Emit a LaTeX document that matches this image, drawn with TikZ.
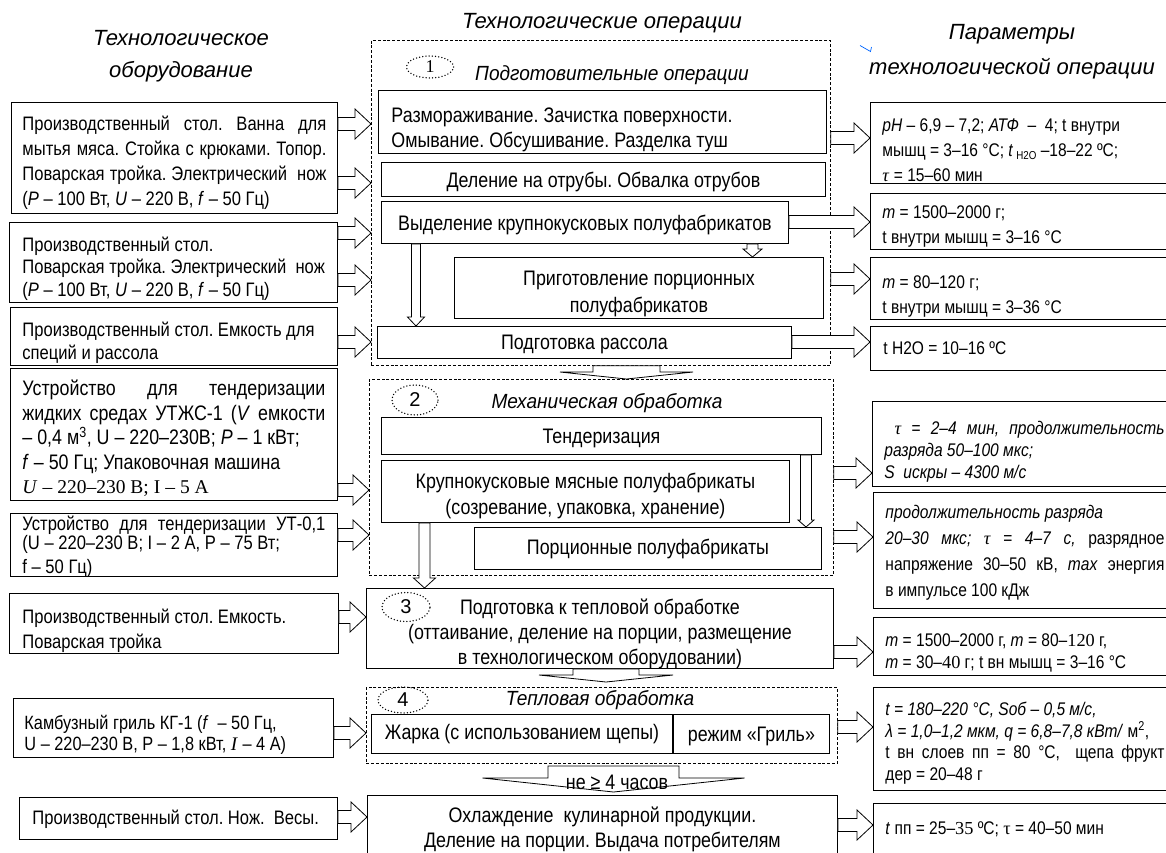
\documentclass[tikz,border=0pt]{standalone}
\usepackage{fontspec}
\setmainfont{Liberation Sans}
\newfontfamily\nar[FakeStretch=0.85]{Liberation Sans}
\newfontfamily\semi[FakeStretch=0.93]{Liberation Sans}
\newfontfamily\ser{Liberation Serif}
\usetikzlibrary{calc,shapes.geometric}
\frenchspacing
\newcommand\lf[1]{\nar\frenchspacing\fontsize{19.5}{#1}\selectfont}
\newcommand\cf[1]{\nar\frenchspacing\fontsize{21}{#1}\selectfont}
\newcommand\rf[1]{\nar\frenchspacing\fontsize{18.3}{#1}\selectfont}
\newcommand\ns{\spaceskip=\fontdimen2\font\relax\xspaceskip=\fontdimen2\font\relax}
\newcommand\jl[2]{\makebox[#1][s]{\spaceskip=\fontdimen2\font plus 1fil\relax\xspaceskip=\spaceskip #2}}
\newcommand\dn[1]{\par\kern-#1pt}
\newcommand\hblk[3]{\draw[blk] let \p1=(#1), \p2=(#2), \p3=(0,#3) in (\x1,\y3+6.5pt) -- (\x2-16pt,\y3+6.5pt) -- (\x2-16pt,\y3+15pt) -- (\x2,\y3) -- (\x2-16pt,\y3-15pt) -- (\x2-16pt,\y3-6.5pt) -- (\x1,\y3-6.5pt) -- cycle;}
\newcommand\vblk[6]{\draw[blk] let \p1=(#1), \p2=(#2), \p3=(#3,0) in (\x3-#4pt,\y1) -- (\x3-#4pt,\y2+#6pt) -- (\x3-#5pt,\y2+#6pt) -- (\x3,\y2) -- (\x3+#5pt,\y2+#6pt) -- (\x3+#4pt,\y2+#6pt) -- (\x3+#4pt,\y1) -- cycle;}
\begin{document}
\begin{tikzpicture}[x=1pt,y=-1pt,
  box/.style={draw, line width=0.9pt, rectangle, anchor=north west, inner ysep=0pt, execute at begin node=\ns},
  grp/.style={draw, line width=0.7pt, dash pattern=on 3pt off 1.8pt, anchor=north west, inner sep=0pt},
  blk/.style={draw, fill=white, line width=0.8pt, line join=miter},
  num/.style={draw, ellipse, line width=1.5pt, dash pattern=on 0pt off 3.2pt, line cap=round, inner sep=0pt},
  ttl/.style={align=center},
  gttl/.style={font=\semi\fontsize{20.5}{24}\selectfont\itshape},
]
\useasboundingbox (0,0) rectangle (1166,852);
\fill[white] (0,0) rectangle (1166,852);

% titles
\node[ttl, font=\fontsize{22}{32}\selectfont\itshape] (T1) at (181,56) {Технологическое\\оборудование};
\node[ttl, font=\fontsize{22}{32}\selectfont\itshape] (T2) at (602,23) {Технологические операции};
\node[ttl, font=\fontsize{22}{35}\selectfont\itshape] (T3) at (1012,52) {Параметры\\технологической операции};
\draw[blue!60!cyan, line width=0.7pt] (860,45.5) -- (870.5,51.5) -- (871.5,47);

% groups
\node[grp, minimum width=459pt, minimum height=325pt] (grp1) at (371,40) {};
\node[grp, minimum width=464pt, minimum height=196pt] (grp2) at (369,379) {};
\node[grp, minimum width=471pt, minimum height=76pt] (grp4) at (366,687) {};

% left column
\node[box, minimum width=326pt, minimum height=111pt, text width=304pt, align=left, font=\lf{25}] (lb1) at (11,102) {%
\jl{304pt}{Производственный стол. Ванна для}\\
\jl{304pt}{мытья мяса. Стойка с крюками. Топор.}\\
\jl{304pt}{Поварская тройка. Электрический\ \ нож}\\
(\textit{P} – 100 Вт, \textit{U} – 220 В, \textit{f} – 50 Гц)\dn{10}};
\node[box, minimum width=328pt, minimum height=80pt, text width=302pt, align=left, font=\lf{22.5}] (lb2) at (9,222) {%
Производственный стол.\\
\jl{302pt}{Поварская тройка. Электрический\ \ нож}\\
(\textit{P} – 100 Вт, \textit{U} – 220 В, \textit{f} – 50 Гц)\dn{12}};
\node[box, minimum width=327pt, minimum height=58pt, text width=303pt, align=left, font=\lf{23}] (lb3) at (10,307) {%
Производственный стол. Емкость для\\специй и рассола\dn{12}};
\node[box, minimum width=327pt, minimum height=132pt, text width=303pt, align=left, font=\nar\fontsize{21}{24.5}\selectfont] (lb4) at (10,368) {%
\jl{303pt}{Устройство для тендеризации}\\
\jl{303pt}{жидких средах УТЖС-1 (\textit{V} емкости}\\
– 0,4 м\textsuperscript{3}, U – 220–230В; \textit{P} – 1 кВт;\\
\textit{f} – 50 Гц; Упаковочная машина\\
{\ser\fontsize{19.5}{24.5}\selectfont\textit{U} – 220–230 В; I – 5 А}\dn{8}};
\node[box, minimum width=327pt, minimum height=63pt, text width=303pt, align=left, font=\lf{24}] (lb5) at (10,513) {%
\jl{303pt}{Устройство для тендеризации УТ-0,1}\\[-5pt]
(U – 220–230 В; I – 2 А, Р – 75 Вт;\\
f – 50 Гц)\dn{4}};
\node[box, minimum width=329pt, minimum height=60pt, text width=303pt, align=left, font=\lf{25}] (lb6) at (9,593) {%
Производственный стол. Емкость.\\Поварская тройка\dn{14}};
\node[box, minimum width=320pt, minimum height=59pt, text width=298pt, align=left, font=\nar\fontsize{19.2}{21}\selectfont] (lb7) at (13,698) {%
Камбузный гриль КГ-1 (\textit{f} \ – 50 Гц,\\U – 220–230 В, Р – 1,8 кВт, {\ser\textit{I}} – 4 А)\dn{14}};
\node[box, minimum width=318pt, minimum height=42pt, text width=292pt, align=left, font=\lf{25}] (lb8) at (19,797) {%
\mbox{Производственный стол. Нож.\ \ Весы.}\dn{2}};

% group 1
\node[num, minimum width=47pt, minimum height=22pt, font=\ser\fontsize{18}{18}\selectfont] (e1) at (430,67) {1};
\node[gttl] (g1t) at (612,75) {Подготовительные операции};
\node[box, minimum width=448pt, minimum height=63pt, text width=422pt, align=left, font=\cf{25}] (bA) at (378,90) {%
Размораживание. Зачистка поверхности.\\Омывание. Обсушивание. Разделка туш\dn{16}};
\node[box, minimum width=444pt, minimum height=34pt, text width=420pt, align=center, font=\cf{25}] (bB) at (381,162) {Деление на отрубы. Обвалка отрубов\dn{8}};
\node[box, minimum width=407pt, minimum height=42pt, text width=390pt, align=center, font=\cf{25}] (bC) at (381,201) {Выделение крупнокусковых полуфабрикатов\dn{6}};
\node[box, minimum width=369pt, minimum height=61pt, text width=350pt, align=center, font=\cf{27}] (bD) at (454,257) {Приготовление порционных\\полуфабрикатов\dn{12}};
\node[box, minimum width=414pt, minimum height=32pt, text width=400pt, align=center, font=\cf{25}] (bE) at (377,326) {Подготовка рассола\dn{12}};

% group 2
\node[num, minimum width=46pt, minimum height=30pt, font=\fontsize{20}{20}\selectfont] (e2) at (415,400) {2};
\node[gttl] (g2t) at (607,403) {Механическая обработка};
\node[box, minimum width=440pt, minimum height=37pt, text width=420pt, align=center, font=\cf{25}] (bF) at (381,417) {Тендеризация\dn{10}};
\node[box, minimum width=408pt, minimum height=62pt, text width=390pt, align=center, font=\cf{26}] (bG) at (381,460) {Крупнокусковые мясные полуфабрикаты\\(созревание, упаковка, хранение)\dn{10}};
\node[box, minimum width=347pt, minimum height=42pt, text width=330pt, align=center, font=\cf{25}] (bH) at (474,527) {Порционные полуфабрикаты\dn{2}};

% stage 3
\node[box, minimum width=467pt, minimum height=80pt, text width=450pt, align=center, font=\cf{25}] (b3) at (366,588) {Подготовка к тепловой обработке\\(оттаивание, деление на порции, размещение\\в технологическом оборудовании)\dn{10}};
\node[num, minimum width=48pt, minimum height=29pt, font=\fontsize{20}{20}\selectfont] (e3) at (406,607) {3};

% group 4
\node[num, minimum width=50pt, minimum height=26pt, font=\fontsize{20}{20}\selectfont] (e4) at (403,700) {4};
\node[gttl] (g4t) at (600,700) {Тепловая обработка};
\node[box, minimum width=301pt, minimum height=39pt, text width=290pt, align=center, font=\cf{25}] (bI) at (371,714) {Жарка (с использованием щепы)};
\node[box, minimum width=156pt, minimum height=39pt, text width=145pt, align=center, font=\cf{25}] (bJ) at (673,714) {режим «Гриль»\dn{8}};

% final
\node[box, minimum width=470pt, minimum height=71pt, text width=450pt, align=center, font=\cf{25}] (bK) at (367,795) {Охлаждение\ \ кулинарной продукции.\\Деление на порции. Выдача потребителям\dn{-3}};

% right column
\node[box, minimum width=306pt, minimum height=81pt, text width=282pt, align=left, font=\rf{25}] (r1) at (870,102) {%
\textit{pH} – 6,9 – 7,2; \textit{АТФ}\ \ –\ \ 4; t внутри\\
мышц = 3–16 °C; \textit{t}\,\raisebox{-3pt}{\fontsize{11.5}{12}\selectfont H2O} –18–22 ºC;\\
{\ser\textit{τ}} = 15–60 мин\dn{14}};
\node[box, minimum width=306pt, minimum height=56pt, text width=282pt, align=left, font=\rf{25}] (r2) at (870,193) {%
\textit{m} = 1500–2000 г;\\t внутри мышц = 3–16 °C\dn{10}};
\node[box, minimum width=306pt, minimum height=62pt, text width=282pt, align=left, font=\rf{25}] (r3) at (870,257) {%
\textit{m} = 80–120 г;\\t внутри мышц = 3–36 °C\dn{16}};
\node[box, minimum width=306pt, minimum height=44pt, text width=280pt, align=left, font=\rf{25}] (r4) at (870,326) {%
t H2O = 10–16 ºC\dn{8}};
\node[box, minimum width=304pt, minimum height=85pt, text width=280pt, align=left, font=\rf{22}\itshape] (r5) at (872,401) {%
\jl{280pt}{\ {\ser\itshape τ} = 2–4 мин, продолжительность}\\
разряда 50–100 мкс;\\
S\ \ искры – 4300 м/с\dn{16}};
\node[box, minimum width=303pt, minimum height=116pt, text width=279pt, align=left, font=\rf{26}] (r6) at (873,492) {%
\textit{продолжительность разряда}\\
\jl{279pt}{\textit{20–30 мкс; {\ser τ} = 4–7 с,} разрядное}\\
\jl{279pt}{напряжение 30–50 кВ, \textit{max} энергия}\\
в импульсе 100 кДж\dn{4}};
\node[box, minimum width=303pt, minimum height=58pt, text width=279pt, align=left, font=\rf{22}] (r7) at (873,617) {%
\textit{m} = 1500–2000 г, \textit{m} = 80–{\ser 120} г,\\
\textit{m} = 30–{\ser 40} г; t вн мышц = 3–16 °C\dn{12}};
\node[box, minimum width=303pt, minimum height=103pt, text width=279pt, align=left, font=\rf{21.5}] (r8) at (873,687) {%
\textit{t = 180–220 °C, Sоб – 0,5 м/с,}\\
\mbox{\textit{λ = 1,0–1,2 мкм, q = 6,8–7,8 кВт/} м\textsuperscript{2},}\\
\jl{279pt}{t вн слоев пп = 80 °C,\ \ щепа фрукт}\\
дер = 20–48 г\dn{8}};
\node[box, minimum width=303pt, minimum height=52pt, text width=279pt, align=left, font=\rf{25}] (r9) at (873,803) {%
\textit{t} пп = 25–{\ser 35} ºC; {\ser τ} = 40–50 мин};

% left arrows
\hblk{lb1.east}{grp1.west}{124}
\hblk{lb1.east}{grp1.west}{183}
\hblk{lb2.east}{grp1.west}{233}
\hblk{lb2.east}{grp1.west}{280}
\hblk{lb3.east}{grp1.west}{342}
\hblk{lb4.east}{grp2.west}{490}
\hblk{lb5.east}{grp2.west}{535}
\hblk{lb6.east}{b3.west}{617}
\hblk{lb7.east}{grp4.west}{733}
\hblk{lb8.east}{bK.west}{817}
% right arrows
\hblk{grp1.east}{r1.west}{138}
\hblk{bC.east}{r2.west}{222}
\hblk{grp1.east}{r3.west}{279}
\hblk{bE.east}{r4.west}{342}
\hblk{grp2.east}{r5.west}{473}
\hblk{grp2.east}{r6.west}{537}
\hblk{b3.east}{r7.west}{652}
\hblk{grp4.east}{r8.west}{727}
\hblk{bK.east}{r9.west}{825}
% vertical arrows
\vblk{bC.south}{bD.north}{752.5}{5.5}{9.5}{8}
\vblk{bC.south}{bE.north}{416}{4.5}{8.5}{9}
\vblk{bF.south}{bH.north}{806}{5.5}{8}{7}
\vblk{bG.south}{b3.north}{424.5}{5.5}{11}{10}
% flat arrows
\coordinate (t34) at (606,682);
\coordinate (s4K) at (613.5,766);
\coordinate (t4K) at (613.5,792);
\vblk{grp1.south}{grp2.north}{626.5}{33.5}{66.5}{7}
\vblk{b3.south}{t34}{606}{33}{67}{7}
\vblk{s4K}{t4K}{613.5}{65.5}{131}{14}
\node[font=\cf{25}] (lbl) at (617,782) {не ≥ 4 часов};
\end{tikzpicture}
\end{document}
